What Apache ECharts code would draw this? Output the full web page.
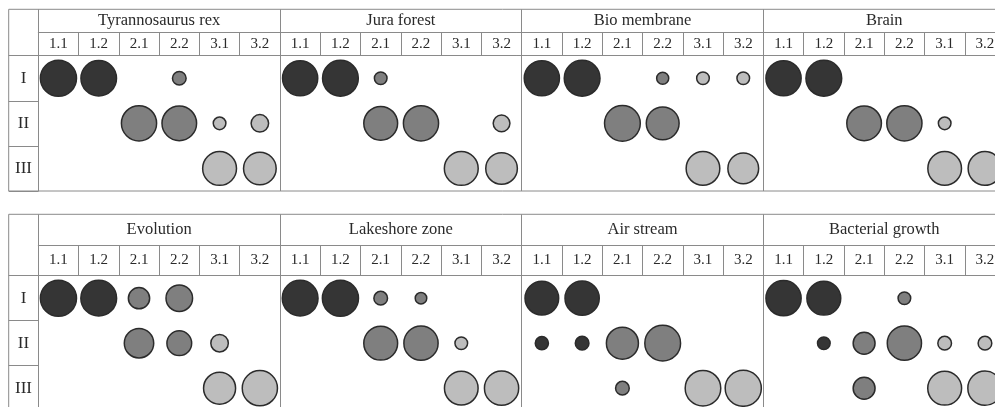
<!DOCTYPE html>
<html>
<head>
<meta charset="utf-8">
<script src="https://cdn.jsdelivr.net/npm/echarts@6/dist/echarts.min.js"></script>
<style>
html,body{margin:0;padding:0;background:#fff;}
#chart{width:995px;height:407px;}
</style>
</head>
<body>
<div id="chart"></div>
<script>
// ---- data ----
const groupsTop = ['Tyrannosaurus rex', 'Jura forest', 'Bio membrane', 'Brain'];
const groupsBottom = ['Evolution', 'Lakeshore zone', 'Air stream', 'Bacterial growth'];
const subColumns = ['1.1', '1.2', '2.1', '2.2', '3.1', '3.2'];
const rowLabels = ['I', 'II', 'III'];

// values per group: rows I, II, III x columns 1.1 .. 3.2 (0 = no bubble)
const tyrannosaurusRex = [[98, 95, 0, 14, 0, 0], [0, 0, 93, 90, 12, 23], [0, 0, 0, 0, 86, 80]];
const juraForest = [[93, 96, 12, 0, 0, 0], [0, 0, 86, 93, 0, 21], [0, 0, 0, 0, 86, 75]];
const bioMembrane = [[93, 96, 0, 11, 12, 12], [0, 0, 96, 81, 0, 0], [0, 0, 0, 0, 85, 71]];
const brain = [[93, 96, 0, 0, 0, 0], [0, 0, 90, 93, 12, 0], [0, 0, 0, 0, 85, 85]];
const evolution = [[98, 96, 34, 53, 0, 0], [0, 0, 65, 46, 23, 0], [0, 0, 0, 0, 77, 93]];
const lakeshoreZone = [[96, 98, 14, 10, 0, 0], [0, 0, 86, 88, 12, 0], [0, 0, 0, 0, 85, 88]];
const airStream = [[85, 88, 0, 0, 0, 0], [13, 14, 77, 96, 0, 0], [0, 0, 14, 0, 95, 98]];
const bacterialGrowth = [[93, 86, 0, 12, 0, 0], [0, 12, 36, 88, 14, 14], [0, 0, 36, 0, 86, 88]];

const valuesTop = [tyrannosaurusRex, juraForest, bioMembrane, brain];
const valuesBottom = [evolution, lakeshoreZone, airStream, bacterialGrowth];

// ---- styling ----
const FONT = '"Liberation Serif", "Times New Roman", serif';
const LINE = '#8a8a8a';
const TEXT = '#2a2a2a';
const FILL = { '1': '#353535', '2': '#7f7f7f', '3': '#bdbdbd' };
const MAX_SIZE = 36.5;

const panels = [
  { groups: groupsTop, values: valuesTop, frameTop: 9.3, groupH: 23, subH: 23.4, rowH: 45.1 },
  { groups: groupsBottom, values: valuesBottom, frameTop: 214.3, groupH: 30.7, subH: 30.7, rowH: 45 }
];
const LEFT = 8.7, LABEL_W = 29.6, GROUP_W = 241.7;

const grid = [], xAxis = [], yAxis = [], series = [];

panels.forEach((p, pi) => {
  const dataTop = p.frameTop + p.groupH + p.subH;
  const dataH = p.rowH * 3;
  const totalW = LABEL_W + GROUP_W * 4;
  const gData = grid.length;
  grid.push({ left: LEFT + LABEL_W, top: dataTop, width: GROUP_W * 4, height: dataH, show: false,
    containLabel: false, outerBoundsMode: 'none' });
  const gFrame = grid.length;
  grid.push({ left: LEFT, top: p.frameTop, width: totalW, height: p.groupH + p.subH + dataH,
    show: true, borderColor: LINE, borderWidth: 1, backgroundColor: 'transparent',
    containLabel: false, outerBoundsMode: 'none' });

  const subCats = [];
  p.groups.forEach((g, gi) => subColumns.forEach((s, si) => subCats.push(gi + '|' + s)));

  const xSub = xAxis.length;
  xAxis.push({
    gridIndex: gData, type: 'category', position: 'top', data: subCats, boundaryGap: true,
    axisLine: { show: true, lineStyle: { color: LINE, width: 1 } },
    axisTick: { show: true, interval: 0, length: p.subH, inside: false, lineStyle: { color: LINE, width: 1 } },
    axisLabel: { interval: 0, margin: p.subH / 2, verticalAlign: 'middle', fontSize: 15, fontFamily: FONT, color: TEXT,
      formatter: v => v.split('|')[1] },
    splitLine: { show: false }
  });
  xAxis.push({
    gridIndex: gData, type: 'category', position: 'top', offset: p.subH, data: p.groups, boundaryGap: true,
    axisLine: { show: true, lineStyle: { color: LINE, width: 1 } },
    axisTick: { show: true, interval: 0, length: p.groupH, inside: false, lineStyle: { color: LINE, width: 1 } },
    axisLabel: { interval: 0, margin: p.groupH / 2, verticalAlign: 'middle', fontSize: 16.5, fontFamily: FONT, color: TEXT },
    splitLine: { show: true, interval: 0, lineStyle: { color: LINE, width: 1 } }
  });
  xAxis.push({ gridIndex: gFrame, type: 'value', show: false });

  const yRow = yAxis.length;
  yAxis.push({
    gridIndex: gData, type: 'category', inverse: true, data: rowLabels, boundaryGap: true,
    axisLine: { show: true, lineStyle: { color: LINE, width: 1 } },
    axisTick: { show: true, interval: 0, length: LABEL_W, inside: false, lineStyle: { color: LINE, width: 1 } },
    axisLabel: { interval: 0, margin: LABEL_W / 2, align: 'center', fontSize: 17, fontFamily: FONT, color: TEXT },
    splitLine: { show: false }
  });
  yAxis.push({ gridIndex: gFrame, type: 'value', show: false });

  const pts = [];
  p.values.forEach((mat, gi) => {
    mat.forEach((row, ri) => {
      row.forEach((v, ci) => {
        if (v > 0) pts.push([gi * subColumns.length + ci, ri, v]);
      });
    });
  });

  series.push({
    type: 'scatter', xAxisIndex: xSub, yAxisIndex: yRow, data: pts, clip: false,
    symbolSize: val => MAX_SIZE * Math.sqrt(val[2] / 100),
    itemStyle: {
      color: params => FILL[subColumns[params.data[0] % subColumns.length][0]],
      borderColor: '#2b2b2b', borderWidth: 1.5, opacity: 1
    },
    emphasis: { disabled: true },
    silent: true
  });
});

const chart = echarts.init(document.getElementById('chart'), null, { renderer: 'canvas' });
chart.setOption({
  animation: false,
  backgroundColor: '#ffffff',
  grid, xAxis, yAxis, series
});
</script>
</body>
</html>
